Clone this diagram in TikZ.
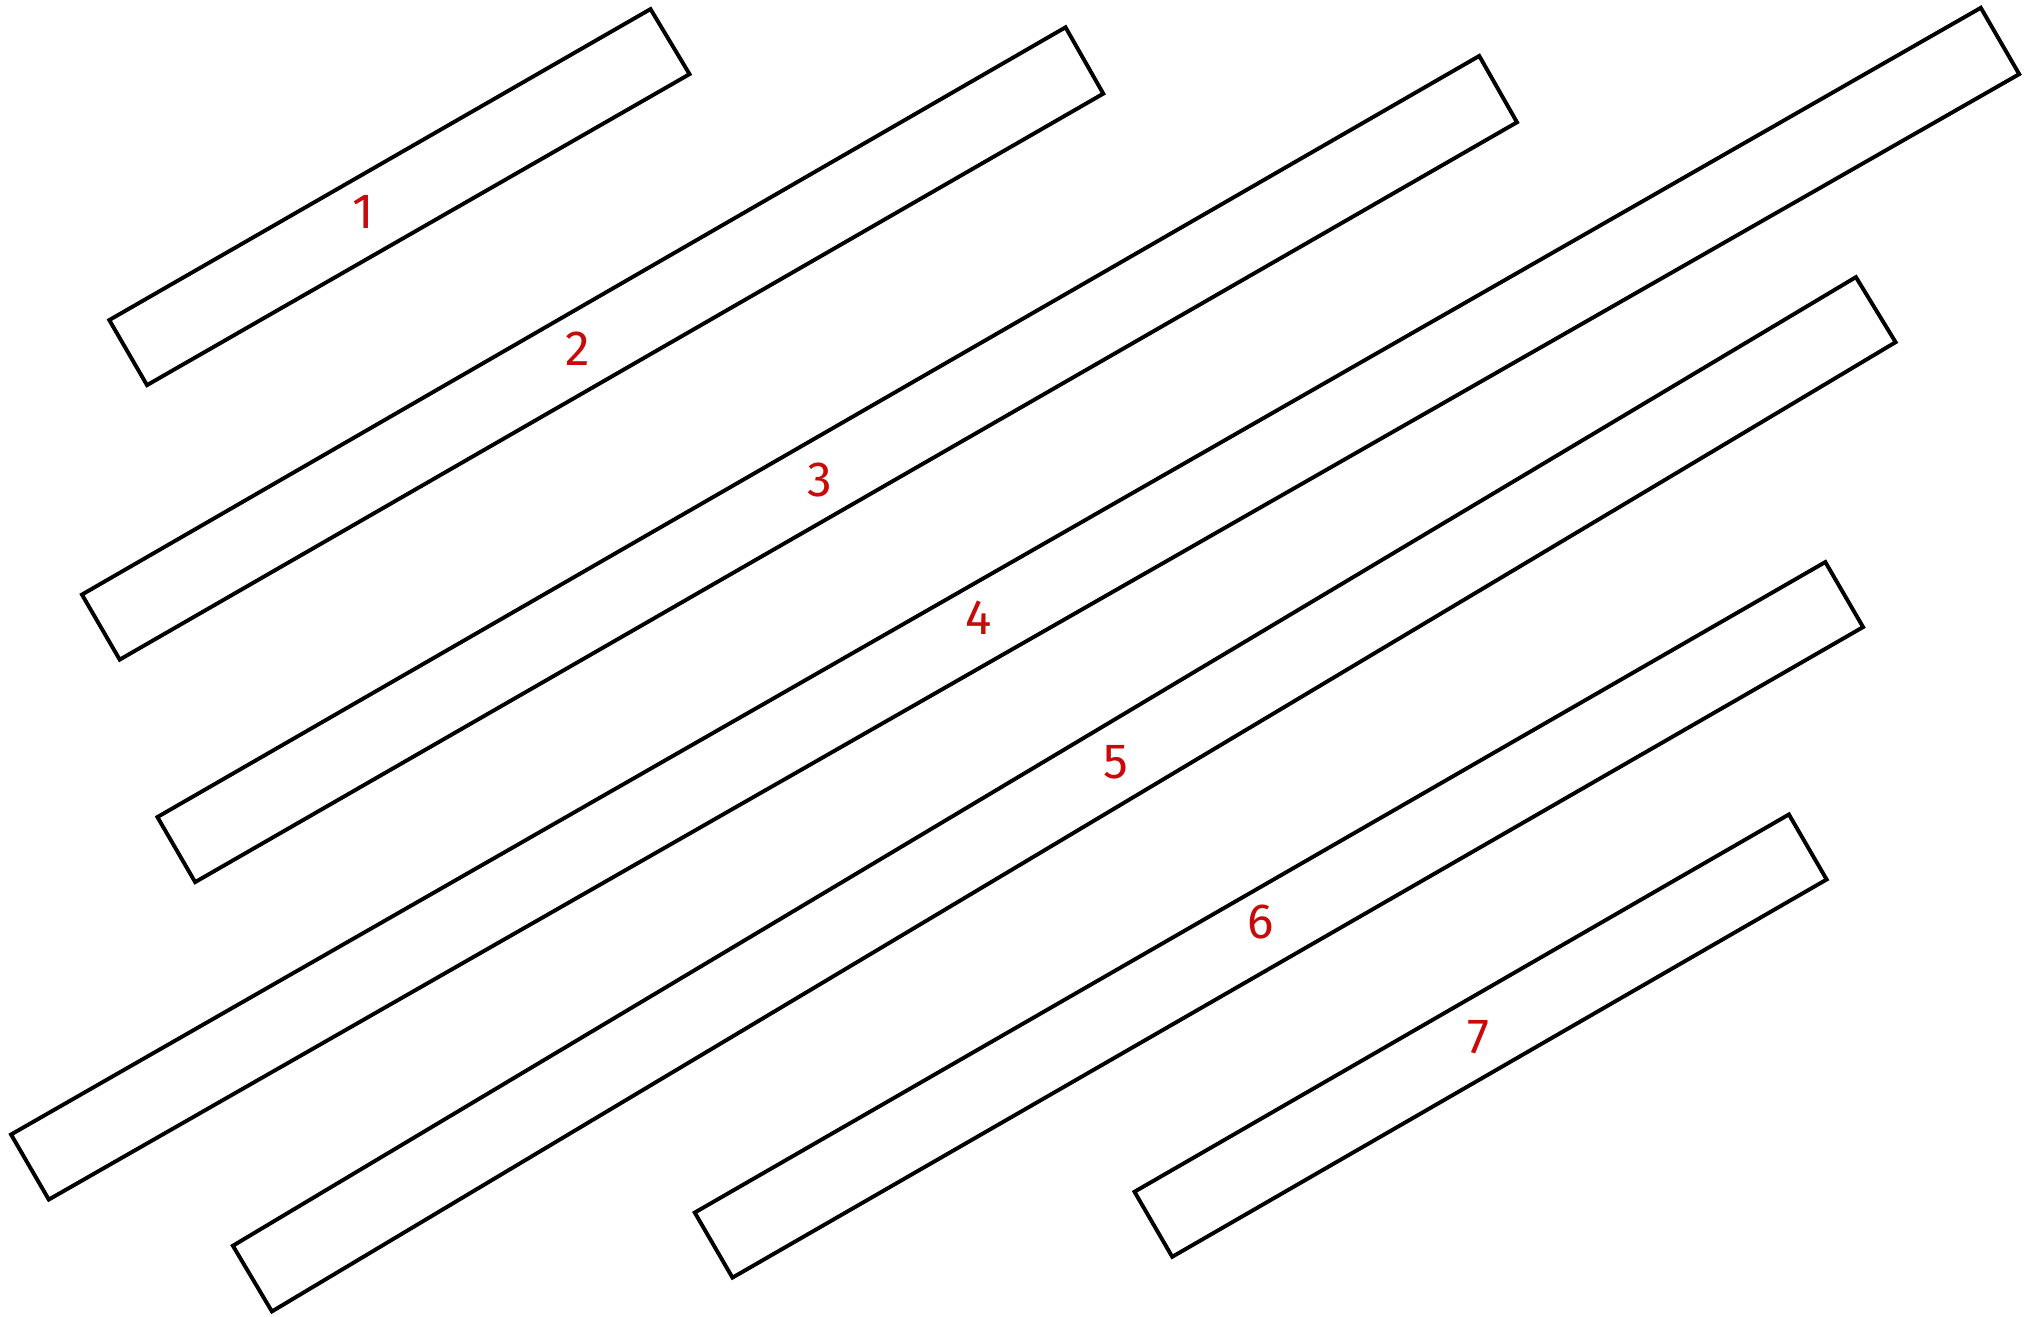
\documentclass[tikz,border=0pt]{standalone}
\usepackage{fontspec}
\setmainfont{Fira Sans}
\definecolor{numred}{RGB}{200,10,10}

\begin{document}
\begin{tikzpicture}[x=0.5pt,y=-0.5pt,
  bar/.style={draw=black,line width=1.5pt,line join=miter},
  num/.style={text=numred,font=\fontsize{19}{20}\selectfont}]
  \useasboundingbox (0,0) rectangle (1568,1012);
  \foreach \p/\q/\r/\s in {
      {(84,246)/(500,7)/(530,57)/(113,296)},
      {(63,457)/(819,21)/(848,72)/(92,507)},
      {(121,628)/(1137,43)/(1166,94)/(150,678)},
      {(8.5,872)/(1522.5,6)/(1552,57)/(37.5,922)},
      {(179,957.5)/(1426.5,213)/(1457,263)/(209,1008)},
      {(534,932)/(1403,432)/(1432,482)/(563,982)},
      {(872,916)/(1375,626)/(1404,676)/(901,966)}}
    \draw[bar] \p -- \q -- \r -- \s -- cycle;
  \foreach \x/\y/\entry in {279/163/1,444/268/2,630/369/3,
      752/475/4,858/586/5,969/709/6,1136/797/7}
    \node[num] (n\entry) at (\x,\y) {\entry};
\end{tikzpicture}
\end{document}
